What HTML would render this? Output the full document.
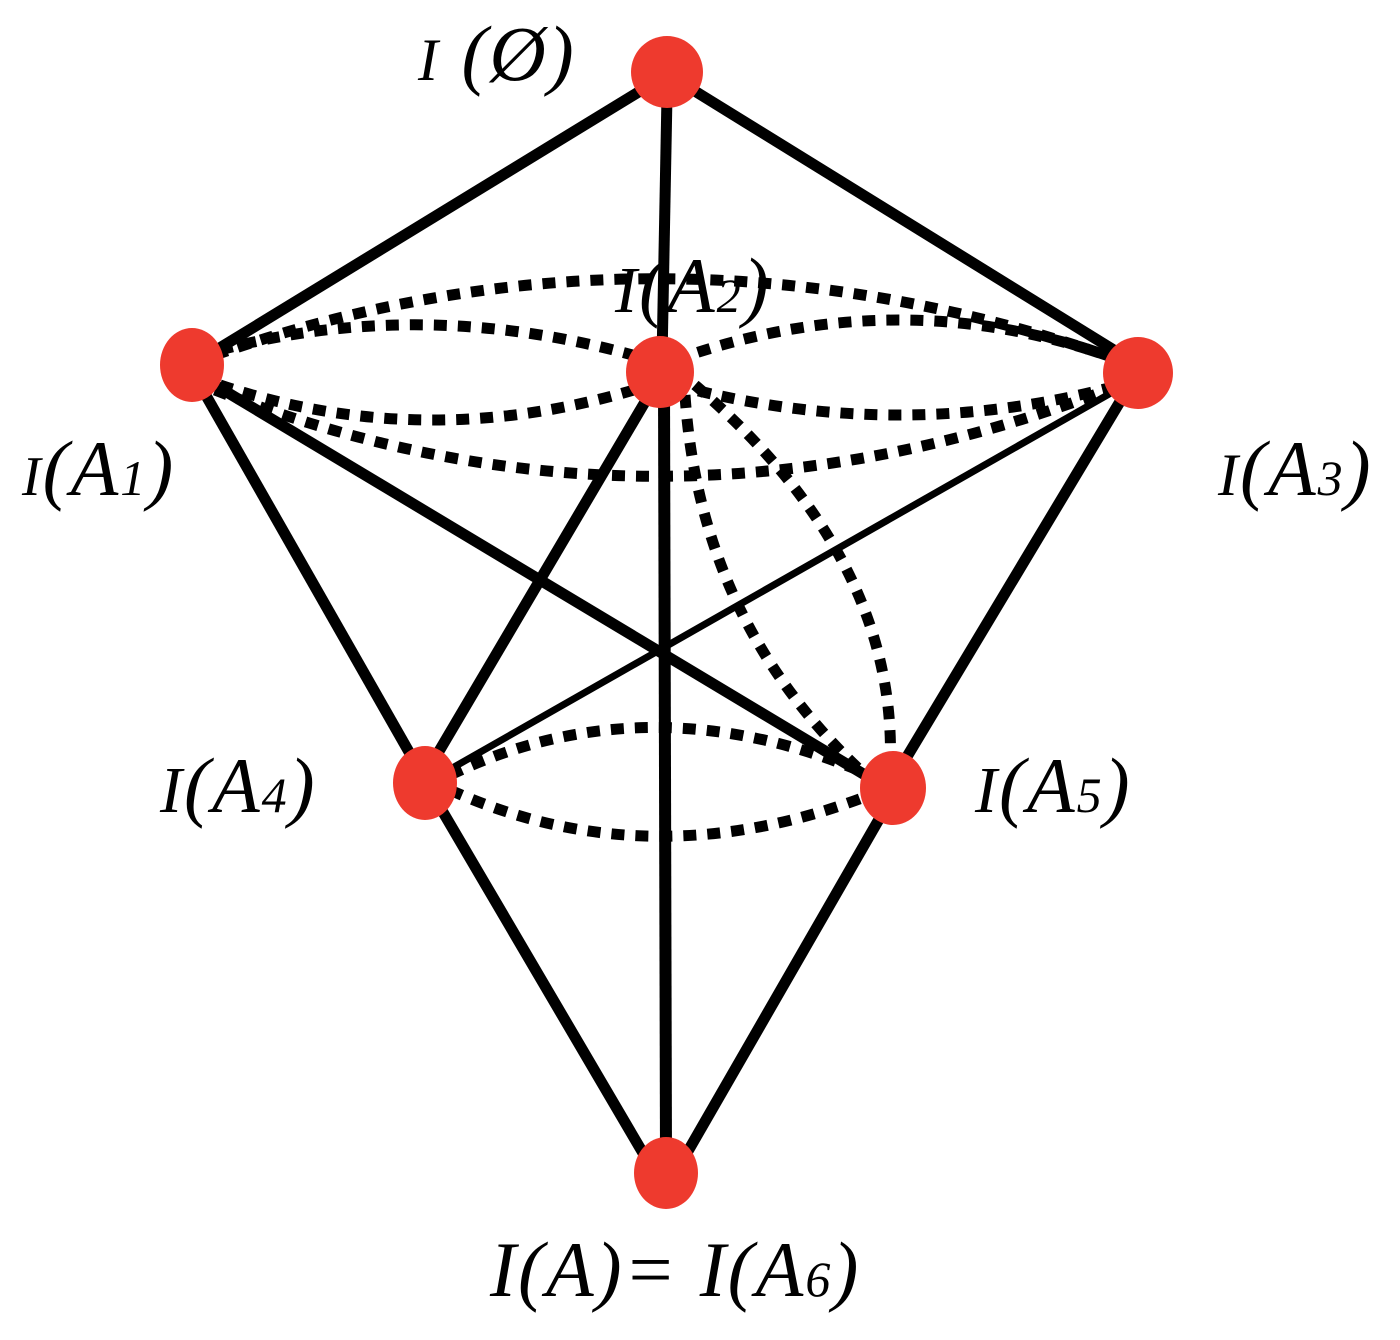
<!DOCTYPE html>
<html><head><meta charset="utf-8"><style>
html,body{margin:0;padding:0;background:#fff;}
svg{display:block}
text{font-family:"Liberation Serif","Times New Roman",serif;font-style:italic;fill:#000;letter-spacing:2px;}
</style></head><body>
<svg width="1400" height="1340" viewBox="0 0 1400 1340" xmlns="http://www.w3.org/2000/svg">
<g stroke="#000" fill="none" stroke-linecap="butt">
  <g stroke-width="11">
    <line x1="650" y1="85" x2="200" y2="360"/>
    <line x1="667" y1="95" x2="662" y2="360"/>
    <line x1="685" y1="85" x2="1130" y2="360"/>
    <line x1="200" y1="385" x2="425" y2="780"/>
    <line x1="215" y1="385" x2="865" y2="775"/>
    <line x1="655" y1="385" x2="425" y2="775"/>
    <line x1="664" y1="385" x2="666" y2="1160" stroke-width="12"/>
    <line x1="1130" y1="385" x2="893" y2="780"/>
    <line x1="430" y1="790" x2="650" y2="1165"/>
    <line x1="893" y1="795" x2="680" y2="1165"/>
  </g>
  <line x1="1125" y1="385" x2="440" y2="775" stroke-width="7"/>
  <g stroke-width="11" stroke-dasharray="13 11">
    <path d="M215,355 Q660,200 1120,360"/>
    <path d="M215,390 Q660,565 1120,385"/>
    <path d="M220,350 Q430,295 650,360"/>
    <path d="M220,385 Q430,455 650,385"/>
    <path d="M675,360 Q900,280 1120,360"/>
    <path d="M675,385 Q900,445 1120,385"/>
    <path d="M685,395 Q700,620 860,770"/>
    <path d="M695,385 Q900,560 890,770"/>
    <path d="M450,775 Q650,680 870,775"/>
    <path d="M450,790 Q650,880 870,795"/>
  </g>
</g>
<g fill="#ee3a2e">
  <ellipse cx="667" cy="72" rx="36" ry="36"/>
  <ellipse cx="192" cy="365" rx="32" ry="37"/>
  <ellipse cx="660" cy="372" rx="34" ry="36"/>
  <ellipse cx="1138" cy="373" rx="35" ry="36"/>
  <ellipse cx="425" cy="783" rx="32" ry="37"/>
  <ellipse cx="893" cy="788" rx="33" ry="37"/>
  <ellipse cx="666" cy="1173" rx="32" ry="36"/>
</g>
<g font-size="78">
  <text x="418" y="80"><tspan font-size="60">I</tspan> (Ø)</text>
  <text x="615" y="312"><tspan font-size="66">I</tspan>(A<tspan font-size="48">2</tspan>)</text>
  <text x="22" y="495"><tspan font-size="56">I</tspan>(A<tspan font-size="50">1</tspan>)</text>
  <text x="1218" y="495"><tspan font-size="60">I</tspan>(A<tspan font-size="50">3</tspan>)</text>
  <text x="160" y="812"><tspan font-size="66">I</tspan>(A<tspan font-size="50">4</tspan>)</text>
  <text x="975" y="812"><tspan font-size="66">I</tspan>(A<tspan font-size="50">5</tspan>)</text>
  <text x="490" y="1296">I(A)= I(A<tspan font-size="50">6</tspan>)</text>
</g>
</svg>
</body></html>
